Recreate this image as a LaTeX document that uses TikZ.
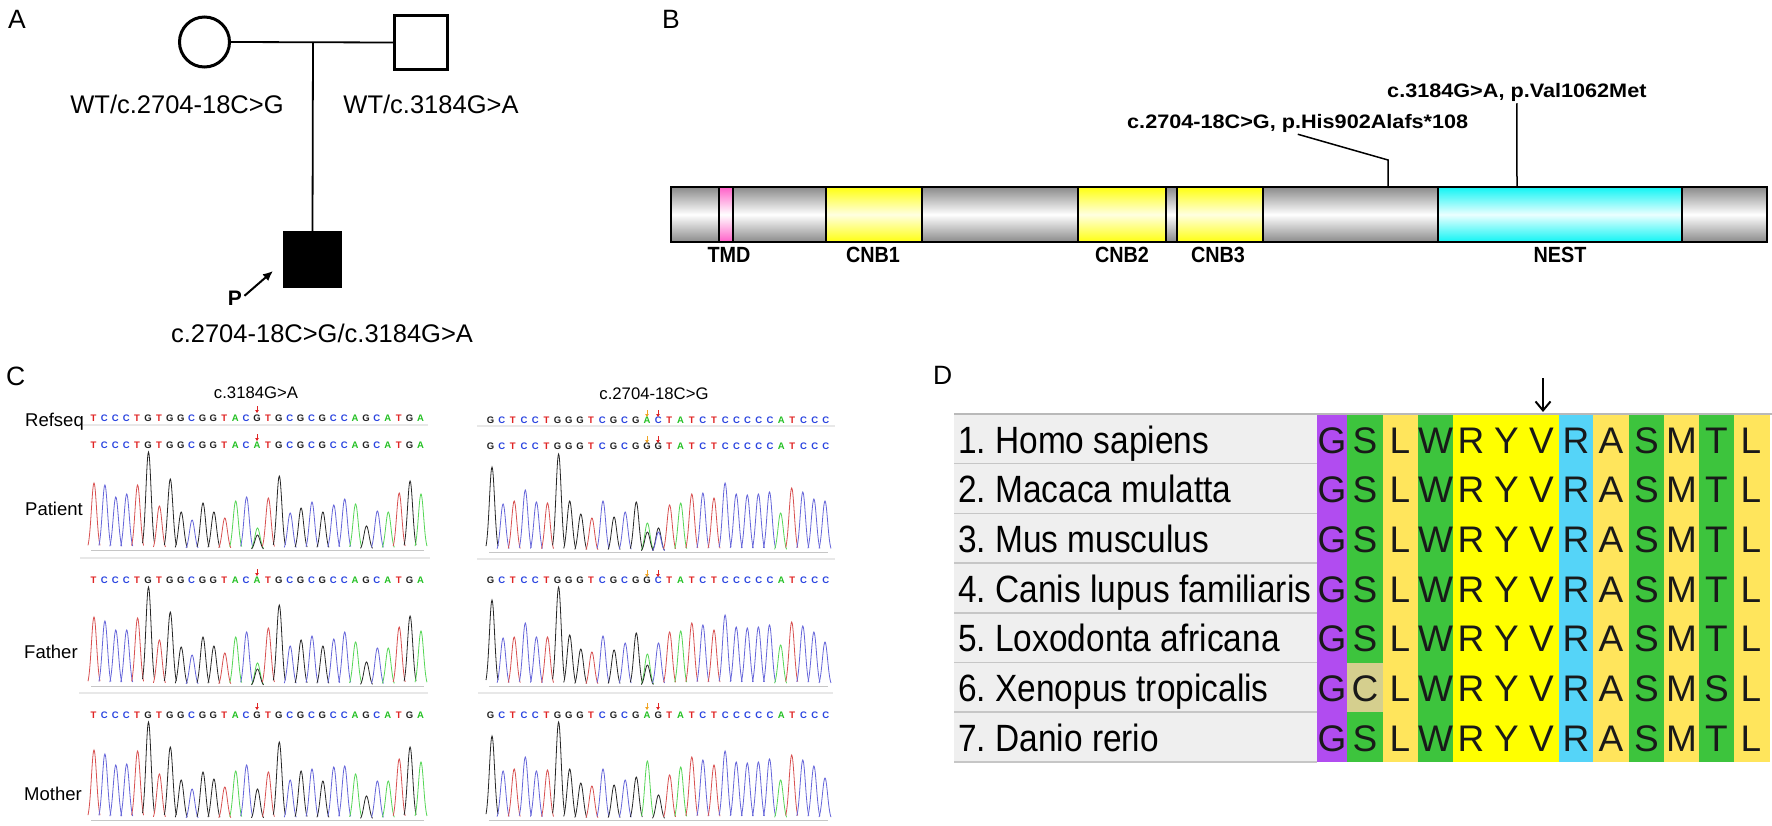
\documentclass[tikz,border=0pt]{standalone}
\usepackage{fontspec}
\setmainfont{Liberation Sans}
\usetikzlibrary{arrows.meta}
\frenchspacing
\definecolor{tA}{HTML}{55D655}
\definecolor{tC}{HTML}{6565DA}
\definecolor{tG}{HTML}{262626}
\definecolor{tT}{HTML}{D85050}
\definecolor{sA}{HTML}{22C022}
\definecolor{sC}{HTML}{2A44E0}
\definecolor{sG}{HTML}{222222}
\definecolor{sT}{HTML}{E02424}
\definecolor{arrO}{HTML}{F0A424}
\definecolor{arrR}{HTML}{E02424}
\definecolor{barG}{HTML}{8A8A8A}
\definecolor{barY}{HTML}{FFFF10}
\definecolor{barC}{HTML}{10F4F4}
\definecolor{barP}{HTML}{FF60C8}
\definecolor{cPur}{HTML}{B14CF0}
\definecolor{cGrn}{HTML}{3DC43D}
\definecolor{cLye}{HTML}{FFE55C}
\definecolor{cYel}{HTML}{FFFF00}
\definecolor{cCya}{HTML}{55D4F8}
\definecolor{cKha}{HTML}{D5CF8E}
\definecolor{labbg}{HTML}{EFEFEF}
\newcommand{\fsz}[1]{\fontsize{#1}{#1}\selectfont}
\newcommand{\trace}[4]{%
  \draw[gray!45, line width=0.6pt] ({#1-3},#3) -- ({#1+30*#2+3},#3);
  \foreach \ii/\hh/\cc in {#4}{%
    \pgfmathsetmacro{\px}{#1+(\ii-1)*#2}
    \draw[color=t\cc, line width=0.8pt] plot[domain=-6:6, samples=25, smooth] ({\px+\x},{#3-\hh*exp(-(\x)*(\x)/13.5)});
  }}
\newcommand{\seqrow}[5]{%
  \foreach \bb [count=\ii] in {#5}{%
    \node[seqlet, text=s\bb] (#1-\ii) at ({#2+(\ii-1)*#3},#4) {\bb};
  }}
\newcommand{\mutarrow}[4]{%
  \draw[#4, line width=1pt, -{Triangle[length=3pt,width=3.5pt]}] (#1,#2) -- (#1,#3);}
\begin{document}
\begin{tikzpicture}[x=1pt,y=-1pt,
  panlab/.style={font={\fsz{26.5}}, anchor=base west, inner sep=0},
  geno/.style={font={\fsz{25.5}}, anchor=base, inner sep=0},
  blab/.style={font={\fsz{22}\bfseries}, inner sep=0},
  mlab/.style={font={\fsz{19.5}\bfseries}, anchor=base west, inner sep=0},
  lead/.style={line width=1.5pt},
  segG/.style={top color=barG, bottom color=barG, middle color=white},
  segY/.style={top color=barY, bottom color=barY, middle color=yellow!12},
  segC/.style={top color=barC, bottom color=barC, middle color=cyan!8},
  segP/.style={top color=barP, bottom color=barP, middle color=white},
  seqlet/.style={font={\fsz{9.5}\bfseries}, inner sep=0},
  clab/.style={font={\fsz{18.5}}, anchor=base west, inner sep=0},
  ctit/.style={font={\fsz{16.7}}, anchor=base, inner sep=0},
  sep/.style={gray!18, line width=2pt},
  dlab/.style={font={\fsz{38}}, anchor=base west, inner sep=0},
  res/.style={font={\fsz{37}}, anchor=base, inner sep=0, text=black!90}
]
\useasboundingbox (0,0) rectangle (1772,825);
\fill[white] (0,0) rectangle (1772,825);

% ---------------- Panel A ----------------
\node[panlab] (lA) at (8,28) {A};
\node[circle, draw, line width=3pt, minimum size=50pt, inner sep=0] (mo) at (204.5,42) {};
\node[rectangle, draw, line width=3pt, minimum width=53pt, minimum height=54pt, inner sep=0] (fa) at (421,42.5) {};
\node[rectangle, draw, fill=black, line width=1pt, minimum width=58pt, minimum height=56pt, inner sep=0] (pt) at (312.5,259.5) {};
\draw[line width=1.8pt] (mo.east) -- (fa.west);
\coordinate (mate) at (313,42);
\draw[line width=1.8pt] (mate) -- (pt.north);
\node[geno] (gm) at (177,113) {WT/c.2704-18C>G};
\node[geno] (gf) at (431,113) {WT/c.3184G>A};
\node[geno] (gp) at (322,342) {c.2704-18C>G/c.3184G>A};
\node[font={\fsz{21}\bfseries}, anchor=base, inner sep=0] (P) at (235,305) {P};
\coordinate (pa) at (273,271);
\draw[line width=2pt, -{Latex[length=10pt,width=9pt]}, shorten <=3pt] (P.east) -- (pa);

% ---------------- Panel B ----------------
\node[panlab] (lB) at (662,28) {B};
\foreach \xa/\xb/\st in {671/719/segG, 719/733/segP, 733/826/segG, 826/922/segY, 922/1078/segG, 1078/1166/segY, 1166/1177/segG, 1177/1263/segY, 1263/1438/segG, 1438/1682/segC, 1682/1767/segG}{%
  \shade[\st] (\xa,187) rectangle (\xb,242);
  \draw[line width=1.3pt] (\xa,187) -- (\xa,242);
}
\draw[line width=2pt] (671,187) rectangle (1767,242);
\node[blab] (tmd) at (729,255) {\scalebox{0.9}[1]{TMD}};
\node[blab] (cnb1) at (873,255) {\scalebox{0.9}[1]{CNB1}};
\node[blab] (cnb2) at (1122,255) {\scalebox{0.9}[1]{CNB2}};
\node[blab] (cnb3) at (1218,255) {\scalebox{0.9}[1]{CNB3}};
\node[blab] (nest) at (1560,255) {\scalebox{0.9}[1]{NEST}};
\node[mlab] (m2) at (1387,97) {\scalebox{1.11}[1]{c.3184G>A, p.Val1062Met}};
\node[mlab] (m1) at (1127,128) {\scalebox{1.11}[1]{c.2704-18C>G, p.His902Alafs*108}};
\coordinate (k1) at (1388,160);
\coordinate (b1) at (1388,187);
\coordinate (b2) at (1517,187);
\draw[lead] ([yshift=-2pt]m1.south) -- (k1) -- (b1);
\draw[lead] ([yshift=-2pt]m2.south) -- (b2);

% ---------------- Panel C ----------------
\node[panlab] (lC) at (6,385) {C};
\node[ctit] (tl) at (256,398) {c.3184G>A};
\node[ctit] (tr) at (654,399) {c.2704-18C>G};
\node[clab] (cref) at (25,426) {Refseq};
\node[clab] (cpat) at (25,515) {Patient};
\node[clab] (cfat) at (24,658) {Father};
\node[clab] (cmot) at (24,800) {Mother};
% separators
\draw[sep] (83,425) -- (428,425);
\draw[sep] (80,558) -- (430,558);
\draw[sep] (79,693) -- (428,693);
\draw[sep] (477,426) -- (835,426);
\draw[sep] (477,559) -- (835,559);
\draw[sep] (478,693) -- (833,693);
% left sequences
\seqrow{lr}{93.5}{10.9}{418.5}{T,C,C,C,T,G,T,G,G,C,G,G,T,A,C,G,T,G,C,G,C,G,C,C,A,G,C,A,T,G,A}
\seqrow{lp}{93.5}{10.9}{445.5}{T,C,C,C,T,G,T,G,G,C,G,G,T,A,C,A,T,G,C,G,C,G,C,C,A,G,C,A,T,G,A}
\seqrow{lf}{93.5}{10.9}{580}{T,C,C,C,T,G,T,G,G,C,G,G,T,A,C,A,T,G,C,G,C,G,C,C,A,G,C,A,T,G,A}
\seqrow{lm}{93.5}{10.9}{715}{T,C,C,C,T,G,T,G,G,C,G,G,T,A,C,G,T,G,C,G,C,G,C,C,A,G,C,A,T,G,A}
\mutarrow{257}{406}{413}{arrR}
\mutarrow{257}{434}{441}{arrR}
\mutarrow{257}{569}{576}{arrR}
\mutarrow{257}{703}{710}{arrR}
% right sequences
\seqrow{rr}{490.5}{11.18}{420.5}{G,C,T,C,C,T,G,G,G,T,C,G,C,G,A,C,T,A,T,C,T,C,C,C,C,C,A,T,C,C,C}
\seqrow{rp}{490.5}{11.18}{446.5}{G,C,T,C,C,T,G,G,G,T,C,G,C,G,G,G,T,A,T,C,T,C,C,C,C,C,A,T,C,C,C}
\seqrow{rf}{490.5}{11.18}{580.5}{G,C,T,C,C,T,G,G,G,T,C,G,C,G,G,C,T,A,T,C,T,C,C,C,C,C,A,T,C,C,C}
\seqrow{rm}{490.5}{11.18}{715}{G,C,T,C,C,T,G,G,G,T,C,G,C,G,A,G,T,A,T,C,T,C,C,C,C,C,A,T,C,C,C}
\foreach \ya/\yb in {410/417, 436/443, 570/577, 703/710}{%
  \mutarrow{647}{\ya}{\yb}{arrO}
  \mutarrow{658}{\ya}{\yb}{arrR}
}
% left traces
\trace{94}{10.9}{550}{1/67/T, 2/65/C, 3/53/C, 4/56/C, 5/65/T, 6/98/G, 7/44/T, 8/71/G, 9/38/G, 10/30/C, 11/47/G, 12/38/G, 13/32/T, 14/49/A, 15/53/C, 16/22/A, 16/15/G, 17/52/T, 18/74/G, 19/37/C, 20/42/G, 21/48/C, 22/38/G, 23/45/C, 24/51/C, 25/46/A, 26/24/G, 27/39/C, 28/38/A, 29/57/T, 30/69/G, 31/56/A}
\trace{94}{10.9}{686}{1/69/T, 2/65/C, 3/56/C, 4/56/C, 5/68/T, 6/99/G, 7/46/T, 8/74/G, 9/39/G, 10/31/C, 11/49/G, 12/40/G, 13/33/T, 14/49/A, 15/54/C, 16/23/A, 16/17/G, 17/58/T, 18/81/G, 19/40/C, 20/46/G, 21/50/C, 22/40/G, 23/47/C, 24/54/C, 25/44/A, 26/24/G, 27/38/C, 28/38/A, 29/59/T, 30/70/G, 31/55/A}
\trace{94}{10.9}{820}{1/70/T, 2/66/C, 3/55/C, 4/56/C, 5/69/T, 6/98/G, 7/46/T, 8/73/G, 9/40/G, 10/31/C, 11/48/G, 12/41/G, 13/33/T, 14/49/A, 15/55/C, 16/31/G, 17/48/T, 18/78/G, 19/40/C, 20/49/G, 21/51/C, 22/39/G, 23/53/C, 24/54/C, 25/46/A, 26/24/G, 27/39/C, 28/39/A, 29/61/T, 30/73/G, 31/58/A}
% right traces
\trace{492}{11.1}{552}{1/85/G, 2/48/C, 3/51/T, 4/62/C, 5/50/C, 6/49/T, 7/98/G, 8/51/G, 9/38/G, 10/34/T, 11/51/C, 12/35/G, 13/40/C, 14/50/G, 15/29/A, 15/20/G, 16/24/G, 16/20/C, 17/47/T, 18/49/A, 19/58/T, 20/59/C, 21/54/T, 22/69/C, 23/58/C, 24/57/C, 25/58/C, 26/60/C, 27/39/A, 28/64/T, 29/60/C, 30/53/C, 31/51/C}
\trace{492}{11.1}{686}{1/86/G, 2/48/C, 3/49/T, 4/63/C, 5/49/C, 6/49/T, 7/99/G, 8/51/G, 9/37/G, 10/34/T, 11/50/C, 12/36/G, 13/43/C, 14/53/G, 15/32/A, 15/21/G, 16/43/C, 17/54/T, 18/55/A, 19/63/T, 20/61/C, 21/56/T, 22/71/C, 23/59/C, 24/58/C, 25/59/C, 26/61/C, 27/41/A, 28/64/T, 29/60/C, 30/54/C, 31/44/C}
\trace{492}{11.1}{820}{1/84/G, 2/49/C, 3/51/T, 4/63/C, 5/49/C, 6/50/T, 7/98/G, 8/51/G, 9/37/G, 10/34/T, 11/51/C, 12/35/G, 13/40/C, 14/43/G, 15/59/A, 16/25/G, 17/45/T, 18/53/A, 19/63/T, 20/60/C, 21/55/T, 22/69/C, 23/58/C, 24/57/C, 25/58/C, 26/61/C, 27/40/A, 28/65/T, 29/60/C, 30/54/C, 31/42/C}

% ---------------- Panel D ----------------
\node[panlab] (lD) at (933,384) {D};
\foreach \xa/\xb/\col in {1317/1347/cPur, 1347/1383/cGrn, 1383/1418/cLye, 1418/1453/cGrn, 1453/1559/cYel, 1559/1593/cCya, 1593/1629/cLye, 1629/1664/cGrn, 1664/1699/cLye, 1699/1734/cGrn, 1734/1770/cLye}{%
  \fill[\col] (\xa,414) rectangle (\xb,762);
}
\fill[cKha] (1347,662.5) rectangle (1383,712.2);
\fill[labbg] (954,414) rectangle (1317,762);
\draw[gray!55, line width=1.5pt] (954,414) -- (1772,414);
\foreach \k in {1,...,7}{%
  \draw[gray!45, line width=1.5pt] (954,{414+\k*49.7}) -- (1317,{414+\k*49.7});
}
\foreach \i/\nm in {1/1. Homo sapiens, 2/2. Macaca mulatta, 3/3. Mus musculus, 4/4. Canis lupus familiaris, 5/5. Loxodonta africana, 6/6. Xenopus tropicalis, 7/7. Danio rerio}{%
  \node[dlab] (lab\i) at (958,{414+(\i-1)*49.7+39}) {\scalebox{0.88}[1]{\nm}};
}
\foreach \r in {1,2,3,4,5,7}{%
  \foreach \cx/\aa [count=\k] in {1332/G,1365/S,1400/L,1435.5/W,1471/R,1506.5/Y,1541.5/V,1576/R,1611/A,1646.5/S,1681.5/M,1716.5/T,1751/L}{%
    \node[res] (r\r-\k) at (\cx,{414+(\r-1)*49.7+39}) {\aa};
  }
}
\foreach \cx/\aa [count=\k] in {1332/G,1365/C,1400/L,1435.5/W,1471/R,1506.5/Y,1541.5/V,1576/R,1611/A,1646.5/S,1681.5/M,1716.5/S,1751/L}{%
  \node[res] (r6-\k) at (\cx,{414+5*49.7+39}) {\aa};
}
\coordinate (dA) at (1543,378);
\coordinate (dB) at (1543,412);
\draw[line width=2pt, -{Straight Barb[length=9pt,width=15pt]}] (dA) -- (dB);
\end{tikzpicture}
\end{document}
